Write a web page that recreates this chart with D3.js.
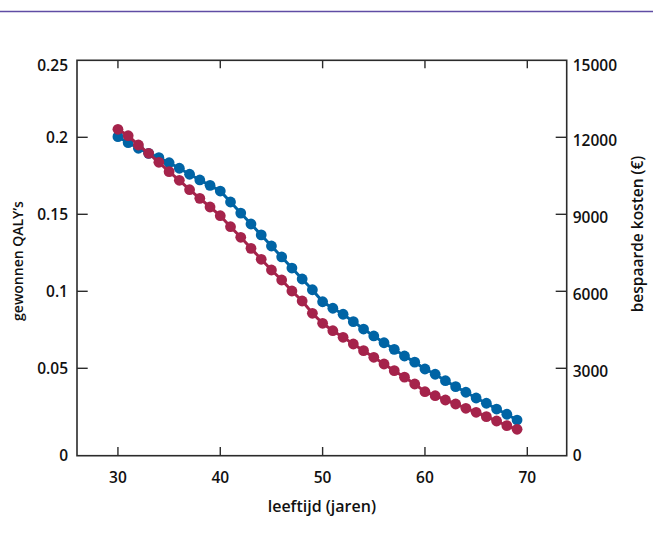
<!DOCTYPE html>
<html>
<head>
<meta charset="utf-8">
<script src="https://cdn.jsdelivr.net/npm/d3@7"></script>
<style>
  body { margin: 0; background: #fff; }
  text { font-family: "Open Sans", sans-serif; font-weight: 600; fill: #111; }
</style>
</head>
<body>
<svg width="653" height="554"></svg>
<script>
// leeftijd 30..69
const ages = d3.range(30, 70);

// gewonnen QALY's (blauw, linker as)
const qalys = [
  0.2004, 0.1965, 0.1929, 0.1896, 0.1868, 0.1835, 0.1799, 0.1760, 0.1723, 0.1688,
  0.1651, 0.1580, 0.1508, 0.1437, 0.1366, 0.1294, 0.1223, 0.1151, 0.1080, 0.1010,
  0.0932, 0.0890, 0.0851, 0.0803, 0.0755, 0.0710, 0.0666, 0.0623, 0.0580, 0.0540,
  0.0496, 0.0466, 0.0429, 0.0395, 0.0363, 0.0330, 0.0300, 0.0267, 0.0237, 0.0204
];

// bespaarde kosten in euro (rood, rechter as)
const kosten = [
  12312, 12062, 11700, 11377, 11026, 10660, 10325, 9958, 9623, 9284,
  8945, 8517, 8104, 7675, 7247, 6830, 6440, 6012, 5622, 5143,
  4753, 4465, 4208, 3947, 3686, 3429, 3168, 2918, 2695, 2461,
  2197, 2059, 1912, 1775, 1627, 1490, 1339, 1191, 1030, 906
];

const xTicks = [30, 40, 50, 60, 70];
const yTicksLeft = [0, 0.05, 0.1, 0.15, 0.2, 0.25];
const yTicksRight = [0, 3000, 6000, 9000, 12000, 15000];

const svg = d3.select('svg');
const margin = {left: 77, top: 60.3, right: 86.3, bottom: 98.3};
const width = 653 - margin.left - margin.right;
const height = 554 - margin.top - margin.bottom;

// bovenste paarse lijn
svg.append('line')
  .attr('x1', 0).attr('x2', 653)
  .attr('y1', 11.5).attr('y2', 11.5)
  .attr('stroke', '#5f4ca4')
  .attr('stroke-width', 1.5);

const g = svg.append('g')
  .attr('transform', `translate(${margin.left},${margin.top})`);

const x = d3.scaleLinear().domain([26, 73.85]).range([0, width]);
// de onderste strook (0 - 0.05) is in het origineel ingedrukt
const yL = d3.scaleLinear().domain([0, 0.05, 0.25]).range([height, 308, 0]);
const yR = d3.scaleLinear().domain([0, 3000, 15000]).range([height, 308, 0]);

const axisColor = '#2b2b2b';

// kader
g.append('rect')
  .attr('width', width).attr('height', height)
  .attr('fill', 'none')
  .attr('stroke', axisColor)
  .attr('stroke-width', 1.6);

// ticks
g.selectAll('.tl').data(yTicksLeft.slice(1, -1)).join('line')
  .attr('x1', 0).attr('x2', 10.7)
  .attr('y1', d => yL(d)).attr('y2', d => yL(d))
  .attr('stroke', axisColor).attr('stroke-width', 1.4);

g.selectAll('.tr').data(yTicksRight.slice(1, -1)).join('line')
  .attr('x1', width).attr('x2', width - 11)
  .attr('y1', d => yR(d)).attr('y2', d => yR(d))
  .attr('stroke', axisColor).attr('stroke-width', 1.4);

g.selectAll('.tb').data(xTicks).join('line')
  .attr('x1', d => x(d)).attr('x2', d => x(d))
  .attr('y1', height).attr('y2', height - 8.7)
  .attr('stroke', axisColor).attr('stroke-width', 1.4);

g.selectAll('.tt').data(xTicks).join('line')
  .attr('x1', d => x(d)).attr('x2', d => x(d))
  .attr('y1', 0).attr('y2', 8)
  .attr('stroke', axisColor).attr('stroke-width', 1.4);

// tick labels
const fmtL = d => d === 0 ? '0' : String(d);
g.selectAll('.ll').data(yTicksLeft).join('text')
  .attr('x', -9)
  .attr('y', d => yL(d) + (d === 0.25 ? 5 : 0))
  .attr('dy', '0.35em')
  .attr('text-anchor', 'end')
  .attr('font-size', 15.5)
  .text(fmtL);

g.selectAll('.lr').data(yTicksRight).join('text')
  .attr('x', width + 6)
  .attr('y', d => yR(d) + (d === 0 ? 0 : 3.5) + (d === 15000 ? 1.5 : 0))
  .attr('dy', '0.35em')
  .attr('text-anchor', 'start')
  .attr('font-size', 15.5)
  .text(d => String(d));

g.selectAll('.lb').data(xTicks).join('text')
  .attr('x', d => x(d))
  .attr('y', height + 22)
  .attr('dy', '0.35em')
  .attr('text-anchor', 'middle')
  .attr('font-size', 15.5)
  .text(d => String(d));

// as titels
g.append('text')
  .attr('x', width / 2)
  .attr('y', height + 51)
  .attr('dy', '0.35em')
  .attr('text-anchor', 'middle')
  .attr('font-size', 16)
  .text('leeftijd (jaren)');

g.append('text')
  .attr('transform', `translate(${18 - margin.left},${261 - margin.top}) rotate(-90)`)
  .attr('dy', '0.35em')
  .attr('text-anchor', 'middle')
  .attr('font-size', 14)
  .text('gewonnen QALY\u2019s');

g.append('text')
  .attr('transform', `translate(${638 - margin.left},${234 - margin.top}) rotate(-90)`)
  .attr('dy', '0.35em')
  .attr('text-anchor', 'middle')
  .attr('font-size', 15.5)
  .text('bespaarde kosten (\u20ac)');

// reeksen
const series = [
  {values: qalys, scale: yL, color: '#0064a5'},
  {values: kosten, scale: yR, color: '#a5234b'}
];

series.forEach(s => {
  const line = d3.line()
    .x((d, i) => x(ages[i]))
    .y(d => s.scale(d));
  g.append('path')
    .datum(s.values)
    .attr('fill', 'none')
    .attr('stroke', s.color)
    .attr('stroke-width', 3)
    .attr('d', line);
  g.append('g').selectAll('circle').data(s.values).join('circle')
    .attr('cx', (d, i) => x(ages[i]))
    .attr('cy', d => s.scale(d))
    .attr('r', 5.4)
    .attr('fill', s.color);
});
</script>
</body>
</html>
